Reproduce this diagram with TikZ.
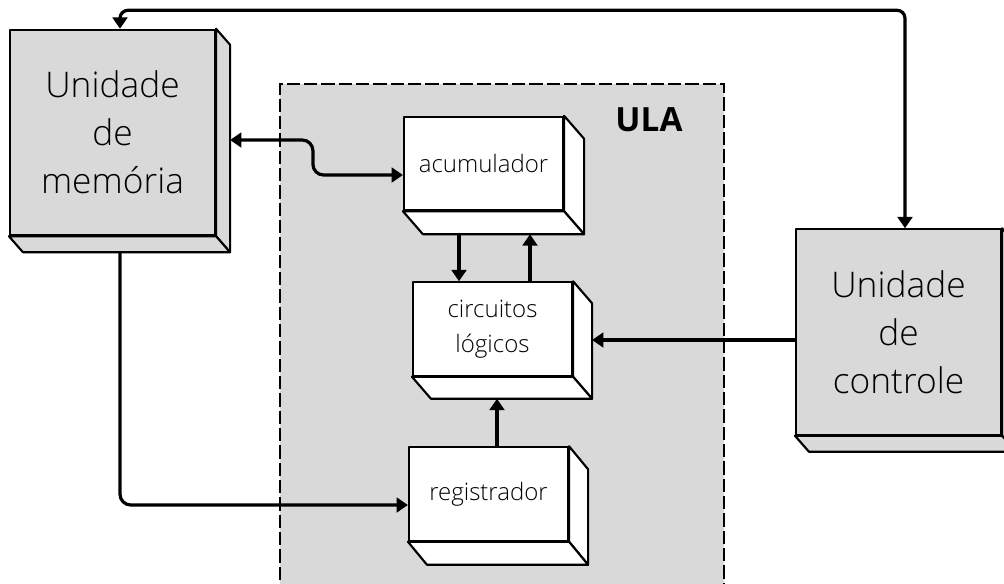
\documentclass[tikz,border=0pt]{standalone}
\usepackage{fontspec}
\setmainfont{Open Sans Light}[BoldFont={Open Sans Bold}]
\usetikzlibrary{arrows.meta}
\definecolor{cinza}{HTML}{D9D9D9}
\newcommand{\faces}[4]{%
  \draw[face,fill=#4] (#1.north east) -- ++(#2,#3) -- ([shift={(#2,#3)}]#1.south east) -- (#1.south east) -- cycle;
  \draw[face,fill=#4] (#1.south west) -- ++(#2,#3) -- ([shift={(#2,#3)}]#1.south east) -- (#1.south east) -- cycle;}

\begin{document}
\begin{tikzpicture}[x=0.75pt,y=-0.75pt,>={Triangle[width=11pt,length=8.5pt]},
  face/.style={draw,line width=1.6pt,line join=round},
  unidade/.style={face,fill=cinza,align=center,inner sep=0pt,minimum width=153.75pt,minimum height=154pt,font=\fontsize{26.5}{36}\selectfont},
  bloco/.style={face,fill=white,align=center,inner sep=0pt,minimum width=119.25pt,minimum height=70pt,font=\fontsize{18}{26}\selectfont},
  seta/.style={line width=2.4pt,line join=round}]
  \useasboundingbox (0,0) rectangle (1004,583);
  \clip (0,0) rectangle (1004,583);
  \node[draw,fill=cinza,line width=1.7pt,dash pattern=on 10pt off 3pt,minimum width=333pt,minimum height=402pt] (ULA) at (502,352) {};
  \node[font=\fontsize{25}{30}\bfseries] (rotulo) at (649,120) {ULA};
  \node[unidade] (Mem) at (112.5,132.5) {Unidade\\de\\memória};
  \faces{Mem}{14}{16}{cinza}
  \node[unidade] (Ctrl) at (898.5,332) {Unidade\\de\\controle};
  \faces{Ctrl}{14}{16}{cinza}
  \node[bloco] (Acc) at (483.5,163.5) {acumulador};
  \faces{Acc}{20}{23}{white}
  \node[bloco] (CL) at (492.5,329) {circuitos\\lógicos};
  \faces{CL}{19}{22}{white}
  \node[bloco] (Reg) at (488.5,494) {registrador};
  \faces{Reg}{19}{23}{white}
  \draw[seta,<->,rounded corners=6] ([shift={(7.5,0)}]Mem.north) |- ([shift={(6.5,-218)}]Ctrl.north) -- ([shift={(6.5,0)}]Ctrl.north);
  \draw[seta,<->,rounded corners=8] ([shift={(14,7.5)}]Mem.east) -| ([shift={(-90,11.5)}]Acc.west) -- ([shift={(0,11.5)}]Acc.west);
  \draw[seta,->] ([shift={(-24.5,23)}]Acc.south) -- ([shift={(-33.5,0)}]CL.north);
  \draw[seta,->] ([shift={(37.5,0)}]CL.north) -- ([shift={(46.5,23)}]Acc.south);
  \draw[seta,->] ([shift={(0,8)}]Ctrl.west) -- ([shift={(19,11)}]CL.east);
  \draw[seta,->] ([shift={(8.5,0)}]Reg.north) -- ([shift={(4.5,22)}]CL.south);
  \draw[seta,->,rounded corners=8] ([shift={(7.5,16)}]Mem.south) |- ([shift={(0,11)}]Reg.west);
\end{tikzpicture}
\end{document}
